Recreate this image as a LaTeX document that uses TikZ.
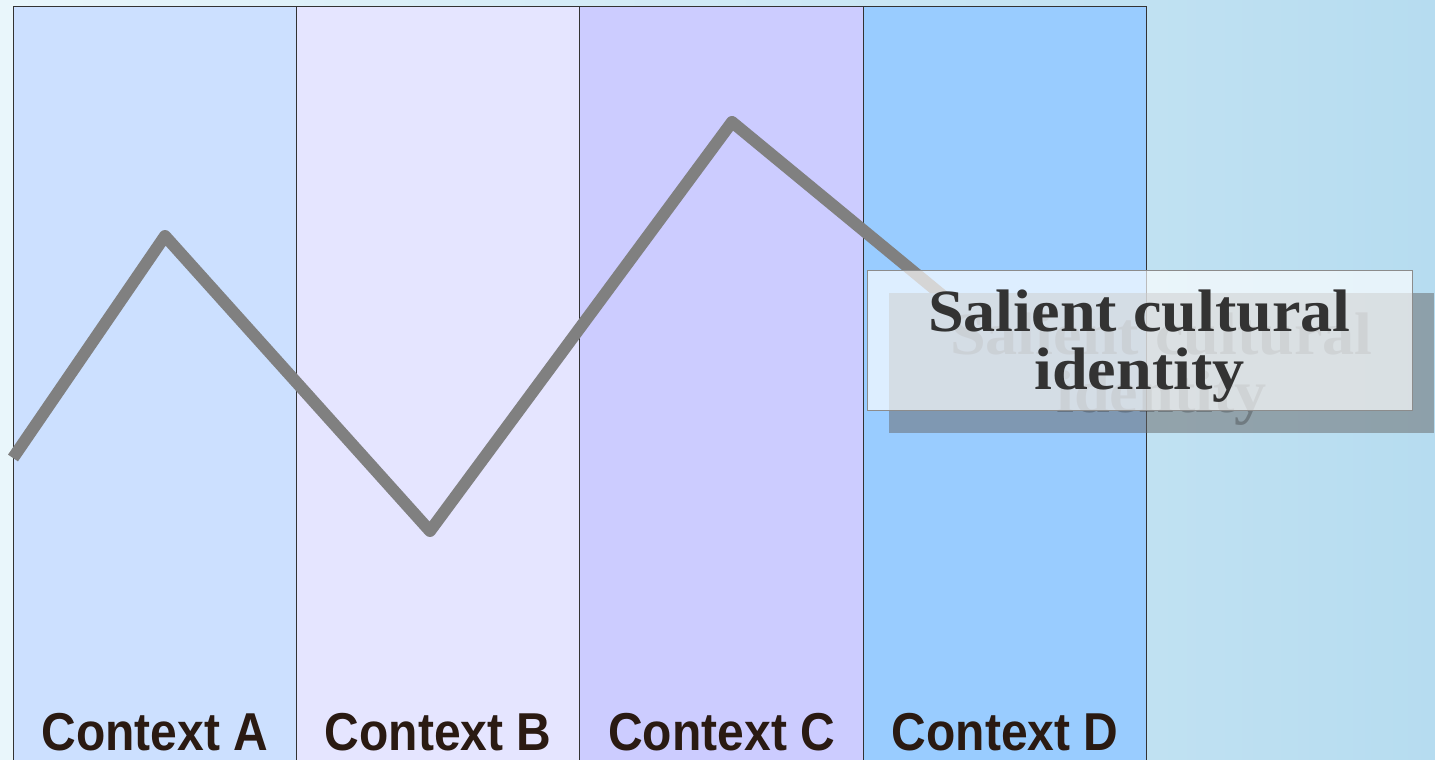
\documentclass[tikz,border=0pt]{standalone}
\usepackage{fontspec}
\setmainfont{Liberation Serif}
\newfontfamily\ctxfont[FakeStretch=0.9]{Liberation Sans}
\newfontfamily\saliencefont[FakeStretch=1.07]{Liberation Serif}
\usetikzlibrary{positioning, calc}

\definecolor{bgleft}{HTML}{E9F6FB}
\definecolor{bgright}{HTML}{B6DCF0}
\definecolor{ctxA}{HTML}{CCE0FF}
\definecolor{ctxB}{HTML}{E5E5FF}
\definecolor{ctxC}{HTML}{CCCCFF}
\definecolor{ctxD}{HTML}{99CCFF}
\definecolor{ctxtext}{HTML}{2A1A12}
\definecolor{zigzag}{HTML}{808080}
\definecolor{salienttext}{HTML}{333333}

\tikzset{
  context/.style={draw=black!80, line width=0.75pt, outer sep=0pt,
    minimum width=212.6pt, minimum height=573pt, anchor=north west},
  ctxlabel/.style={font=\ctxfont\bfseries\fontsize{40}{48}\selectfont,
    text=ctxtext, anchor=base},
  saliencebox/.style={minimum width=408.75pt, minimum height=105pt,
    inner sep=0pt, outer sep=0pt},
  saliencetext/.style={align=center, inner sep=0pt, text=salienttext,
    font=\saliencefont\bfseries\fontsize{45}{43.5}\selectfont}
}

\begin{document}
\begin{tikzpicture}[x=0.75pt, y=-0.75pt]
      \useasboundingbox (0,0) rectangle (1435,760);
      \clip (0,0) rectangle (1435,760);
      \shade[left color=bgleft, right color=bgright] (0,0) rectangle (1435,760);

      % the four context columns
      \node[context, fill=ctxA] (colA) at (13,6) {};
      \node[context, fill=ctxB, right=0pt of colA.north east, anchor=north west] (colB) {};
      \node[context, fill=ctxC, right=0pt of colB.north east, anchor=north west] (colC) {};
      \node[context, fill=ctxD, right=0pt of colC.north east, anchor=north west] (colD) {};

      \node[ctxlabel] (labA) at (colA.center |- 0,750) {Context A};
      \node[ctxlabel] (labB) at (colB.center |- 0,750) {Context B};
      \node[ctxlabel] (labC) at (colC.center |- 0,750) {Context C};
      \node[ctxlabel] (labD) at (colD.center |- 0,750) {Context D};

      % drop shadow of the label box
      \coordinate (sal) at (1139.5,340);
      \node[saliencebox, fill=black!60, fill opacity=0.5] (salshadow) at ($(sal)+(22,23)$) {};
      \node[saliencetext, text opacity=0.35] (salshadowtext) at ($(salshadow.center)+(0,6)$)
        {Salient cultural\\identity};

      % identity line across the contexts, hidden under the shadow
      \coordinate (z0) at (13,458);
      \coordinate (z1) at (165,236);
      \coordinate (z2) at (430,531);
      \coordinate (z3) at (732,122);
      \coordinate (z4) at (1000,343);
      \begin{scope}[even odd rule]
        \clip (0,0) rectangle (1435,760)
          (salshadow.north west) rectangle (salshadow.south east);
        \draw[zigzag, line width=9pt, line join=round] (z0) -- (z1) -- (z2) -- (z3) -- (z4);
      \end{scope}

      % label box
      \node[saliencebox, draw=black!45, line width=0.75pt, fill=white,
        fill opacity=0.67] (salient) at (sal) {};
      \node[saliencetext] (saltext) at ($(salient.center)+(0,6)$)
        {Salient cultural\\identity};
\end{tikzpicture}
\end{document}
